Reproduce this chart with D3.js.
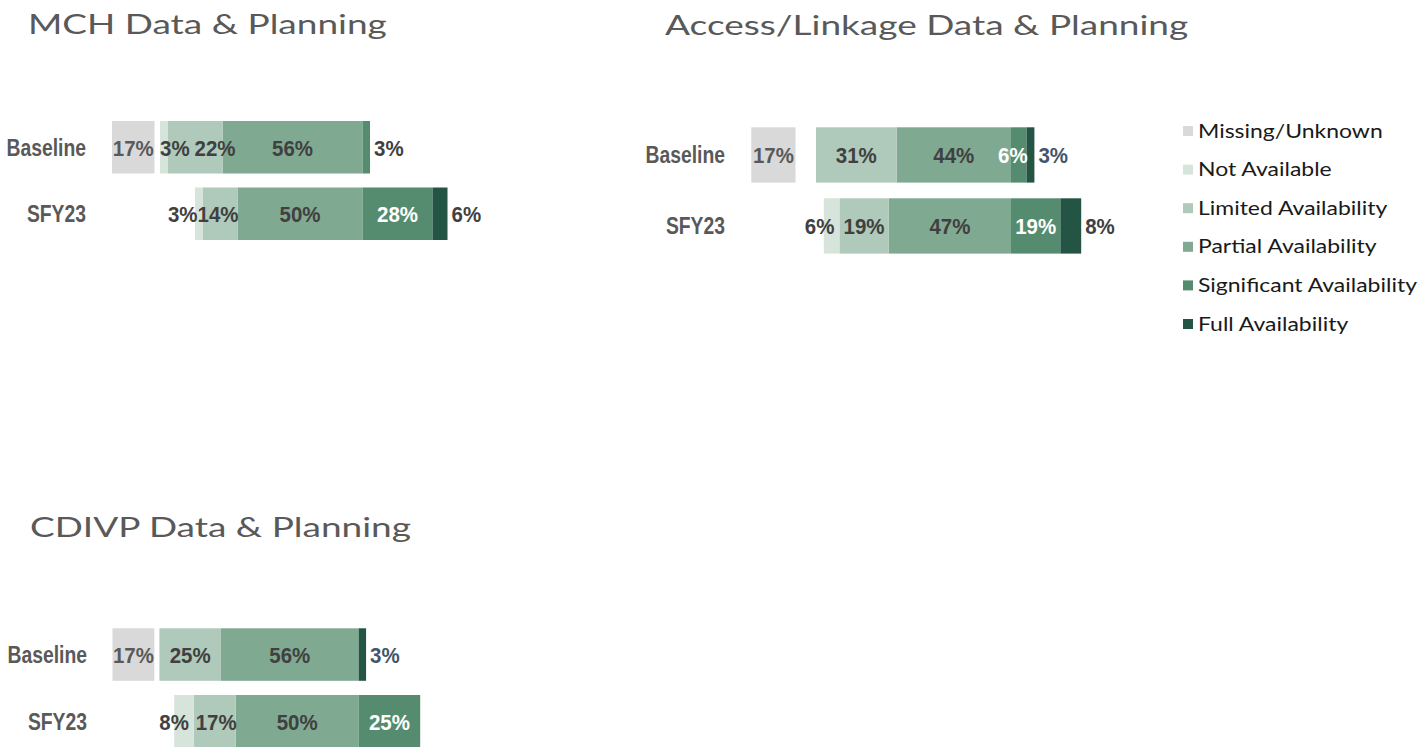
<!DOCTYPE html>
<html>
<head>
<meta charset="utf-8">
<style>
  body { margin: 0; background: #fff; }
  svg { display: block; }
</style>
</head>
<body>
<div id="chart"></div>
<script src="https://cdn.jsdelivr.net/npm/d3@7"></script>
<script>
var categories = ["Missing/Unknown", "Not Available", "Limited Availability", "Partial Availability", "Significant Availability", "Full Availability"];
var rows = ["Baseline", "SFY23"];
var titles = ["MCH Data & Planning", "Access/Linkage Data & Planning", "CDIVP Data & Planning"];

// percent per category, same order as categories
var mchBaseline = [17, 3, 22, 56, 3, 0];
var mchSFY23 = [0, 3, 14, 50, 28, 6];
var accessBaseline = [17, 0, 31, 44, 6, 3];
var accessSFY23 = [0, 6, 19, 47, 19, 8];
var cdivpBaseline = [17, 0, 25, 56, 0, 3];
var cdivpSFY23 = [0, 8, 17, 50, 25, 0];

var colors = ["#d9d9d9", "#d6e4dc", "#afc9ba", "#80a992", "#558b6e", "#235444"];
var color = d3.scaleOrdinal().domain(categories).range(colors);

var leftKeys = [categories[3], categories[2], categories[1]];
var rightKeys = [categories[4], categories[5]];

var labelFont = "'Liberation Sans', Arial, sans-serif";
var titleFont = "Lato, 'Open Sans', sans-serif";
var dark = "#404040";

var panels = [
  { title: titles[0], values: [mchBaseline, mchSFY23], titleX: 28, titleY: 34,
    center: 362.5, k: 2.5, missX: 112, top: 121, step: 66.5, barH: 52.5, labelRight: 86 },
  { title: titles[1], values: [accessBaseline, accessSFY23], titleX: 665, titleY: 35,
    center: 1011, k: 2.6, missX: 751.3, top: 127.3, step: 71, barH: 55.3, labelRight: 725 },
  { title: titles[2], values: [cdivpBaseline, cdivpSFY23], titleX: 30, titleY: 537,
    center: 358.7, k: 2.46, missX: 112.5, top: 628.3, step: 66.7, barH: 52.5, labelRight: 87 }
];

var svg = d3.select("#chart").append("svg")
  .attr("width", 1424)
  .attr("height", 747);

// squeeze or stretch a text by a width ratio
function squeeze(t, ratio) {
  var w = t.node().getComputedTextLength();
  t.attr("textLength", w * ratio).attr("lengthAdjust", "spacingAndGlyphs");
  return w * ratio;
}

// wide geometric look for titles: stretch so the titles together are as wide as in the picture
var natural = 0;
titles.forEach(function(s) {
  var probe = svg.append("text").style("font-family", titleFont).style("font-size", "26px").text(s);
  natural += probe.node().getComputedTextLength();
  probe.remove();
});
var titleRatio = (349 + 546 + 368) / natural;

panels.forEach(function(p) {
  var g = svg.append("g");

  var tt = g.append("text")
    .attr("x", p.titleX)
    .attr("y", p.titleY)
    .style("font-family", titleFont)
    .style("font-size", "26px")
    .style("fill", "#595959")
    .text(p.title);
  squeeze(tt, titleRatio);

  var x = d3.scaleLinear().domain([-100, 100]).range([p.center - 100 * p.k, p.center + 100 * p.k]);
  var xm = d3.scaleLinear().domain([0, 100]).range([p.missX, p.missX + 100 * p.k]);
  var y = d3.scaleBand().domain(rows)
    .range([p.top, p.top + p.step + p.barH])
    .paddingInner(1 - p.barH / p.step)
    .paddingOuter(0);

  var table = rows.map(function(r, i) {
    var o = { row: r };
    categories.forEach(function(c, j) { o[c] = p.values[i][j]; });
    return o;
  });

  var series = d3.stack()
    .keys(leftKeys.concat(rightKeys))
    .value(function(d, key) { return leftKeys.indexOf(key) >= 0 ? -d[key] : d[key]; })
    .offset(d3.stackOffsetDiverging)(table);

  // row labels
  g.selectAll(".rowlab").data(rows).enter().append("text")
    .attr("x", p.labelRight)
    .attr("y", function(d) { return y(d) + y.bandwidth() / 2; })
    .attr("dy", "0.36em")
    .attr("text-anchor", "end")
    .style("font-family", labelFont)
    .style("font-weight", "bold")
    .style("font-size", "23px")
    .style("fill", "#595959")
    .text(function(d) { return d; })
    .each(function() { squeeze(d3.select(this), 0.84); });

  // missing / unknown bars, kept apart on the left
  g.selectAll(".miss").data(table.filter(function(d) { return d[categories[0]] > 0; }))
    .enter().append("rect")
    .attr("x", xm(0))
    .attr("y", function(d) { return y(d.row); })
    .attr("width", function(d) { return xm(d[categories[0]]) - xm(0); })
    .attr("height", y.bandwidth())
    .style("fill", color(categories[0]));

  series.forEach(function(s) {
    g.selectAll(null).data(s.filter(function(d) { return d[1] !== d[0]; }))
      .enter().append("rect")
      .attr("x", function(d) { return x(Math.min(d[0], d[1])); })
      .attr("y", function(d) { return y(d.data.row); })
      .attr("width", function(d) { return Math.abs(x(d[1]) - x(d[0])); })
      .attr("height", y.bandwidth())
      .style("fill", color(s.key));
  });

  // value labels
  table.forEach(function(d) {
    var cy = y(d.row) + y.bandwidth() / 2;
    var minX = -Infinity;
    var mv = d[categories[0]];
    if (mv > 0) {
      var ml = addLabel(g, mv + "%", cy, "#595959");
      ml.t.attr("x", (xm(0) + xm(mv)) / 2);
      minX = xm(mv) + 4;
    }
    var segs = [];
    series.forEach(function(s) {
      var pt = s.find(function(e) { return e.data.row === d.row; });
      if (pt[0] !== pt[1]) {
        segs.push({ key: s.key, value: d[s.key], x0: x(Math.min(pt[0], pt[1])), x1: x(Math.max(pt[0], pt[1])) });
      }
    });
    segs.sort(function(a, b) { return a.x0 - b.x0; });
    segs.forEach(function(s, i) {
      var light = s.key === categories[4] || s.key === categories[5];
      var lab = addLabel(g, s.value + "%", cy, light ? "#fff" : dark);
      var t = lab.t, tw = lab.w;
      var w = s.x1 - s.x0;
      var tx;
      if (w >= tw + 4) {
        tx = (s.x0 + s.x1) / 2;
        if (tx - tw / 2 < minX) tx = minX + tw / 2;
      } else if (i === segs.length - 1) {
        tx = s.x1 + 4 + tw / 2;
        t.style("fill", d.row === rows[0] && s.key === categories[5] ? "#44546a" : dark);
      } else if (i === 0) {
        tx = s.x1 - 5 - tw / 2;
        if (tx - tw / 2 < minX) tx = s.x0 + tw / 2;
        t.style("fill", dark);
      } else {
        tx = s.x1 + 1 - tw / 2;
      }
      t.attr("x", tx);
      minX = tx + tw / 2 + 5;
    });
  });
});

function addLabel(g, txt, y, fill) {
  var t = g.append("text")
    .attr("x", 0)
    .attr("y", y)
    .attr("dy", "0.38em")
    .attr("text-anchor", "middle")
    .style("font-family", labelFont)
    .style("font-weight", "bold")
    .style("font-size", "22px")
    .style("fill", fill)
    .text(txt);
  var w = squeeze(t, 0.93);
  return { t: t, w: w };
}

// legend
var probe2 = svg.append("text").style("font-family", titleFont).style("font-size", "18.5px").text(categories[4]);
var legRatio = 219 / probe2.node().getComputedTextLength();
probe2.remove();

var ly = d3.scalePoint().domain(categories).range([131, 324]);
var leg = svg.append("g").selectAll("g").data(categories).enter().append("g")
  .attr("transform", function(d) { return "translate(1183," + ly(d) + ")"; });
leg.append("rect")
  .attr("x", 0).attr("y", -5)
  .attr("width", 10).attr("height", 10)
  .style("fill", function(d) { return color(d); });
leg.append("text")
  .attr("x", 15)
  .attr("dy", "0.36em")
  .style("font-family", titleFont)
  .style("font-size", "18.5px")
  .style("fill", "#1a1a1a")
  .text(function(d) { return d; })
  .each(function() { squeeze(d3.select(this), legRatio); });
</script>
</body>
</html>
